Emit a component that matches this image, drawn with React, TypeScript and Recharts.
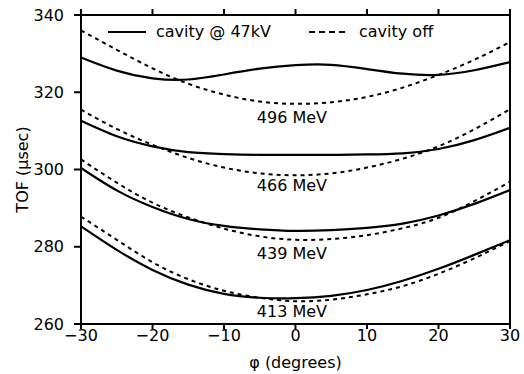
import React from 'react';
import { LineChart, Line, XAxis, YAxis, ReferenceDot, Legend } from 'recharts';

// phi (degrees) sample positions
const phi = [-30, -25, -20, -15, -10, -5, 0, 5, 10, 15, 20, 25, 30];

// TOF (usec), cavity @ 47kV (solid) and cavity off (dashed)
const on496 = [329.0, 325.6, 323.6, 323.3, 324.6, 326.1, 327.0, 327.1, 326.0, 324.8, 324.5, 325.7, 327.8];
const off496 = [336.0, 331.0, 326.2, 322.2, 319.4, 317.6, 317.0, 317.4, 318.8, 321.2, 324.5, 328.4, 333.0];
const on466 = [312.6, 308.6, 306.0, 304.5, 304.0, 303.8, 303.8, 303.8, 303.9, 304.2, 305.3, 307.6, 310.8];
const off466 = [315.5, 310.5, 306.4, 303.0, 300.5, 299.0, 298.5, 299.0, 300.5, 302.8, 306.0, 310.4, 315.6];
const on439 = [300.4, 294.6, 290.3, 287.2, 285.4, 284.5, 284.1, 284.3, 284.9, 286.0, 288.1, 291.1, 294.7];
const off439 = [302.6, 296.6, 291.4, 287.6, 284.7, 282.7, 281.8, 282.0, 283.0, 284.8, 287.5, 291.8, 296.8];
const on413 = [285.3, 279.2, 274.0, 270.2, 267.8, 266.8, 266.7, 267.3, 268.8, 271.2, 274.3, 277.9, 281.7];
const off413 = [287.8, 281.8, 276.0, 271.6, 268.6, 266.8, 265.9, 266.3, 267.7, 269.8, 273.0, 277.0, 281.5];

const energies = ['496 MeV', '466 MeV', '439 MeV', '413 MeV'];
const energyLabelY = [313.6, 296.0, 278.3, 263.3];

const xTicks = [-30, -20, -10, 0, 10, 20, 30];
const yTicks = [260, 280, 300, 320, 340];

const data = phi.map((p, i) => ({
  phi: p,
  on496: on496[i], off496: off496[i],
  on466: on466[i], off466: off466[i],
  on439: on439[i], off439: off439[i],
  on413: on413[i], off413: off413[i],
}));

const FONT = '"DejaVu Sans", sans-serif';

const LegendBox = () => (
  <div style={{ fontFamily: FONT, fontSize: 16, color: '#000', display: 'flex', alignItems: 'center', whiteSpace: 'nowrap' }}>
    <svg width={38} height={6}><line x1={0} y1={3} x2={38} y2={3} stroke="#000" strokeWidth={2} /></svg>
    <span style={{ marginLeft: 10 }}>cavity @ 47kV</span>
    <svg width={40} height={6} style={{ marginLeft: 38 }}><line x1={0} y1={3} x2={40} y2={3} stroke="#000" strokeWidth={2} strokeDasharray="6 4" /></svg>
    <span style={{ marginLeft: 10 }}>cavity off</span>
  </div>
);

const blank = () => '';

export default function App() {
  const solid = ['on496', 'on466', 'on439', 'on413'];
  const dashed = ['off496', 'off466', 'off439', 'off413'];
  return (
    <div style={{ position: 'absolute', left: 0, top: 0, background: '#fff' }}>
      <LineChart width={524} height={374} data={data} margin={{ top: 14, right: 13, bottom: 0, left: 0 }}>
        <XAxis
          dataKey="phi"
          type="number"
          domain={[-30, 30]}
          ticks={xTicks}
          height={50}
          stroke="#000"
          strokeWidth={2}
          tickSize={5}
          tickMargin={1}
          tickLine={{ stroke: '#000', strokeWidth: 2 }}
          tick={{ fill: '#000', fontSize: 16, fontFamily: FONT }}
          tickFormatter={(v: number) => (v < 0 ? '\u2212' + Math.abs(v) : String(v))}
          label={{ value: '\u03c6 (degrees)', position: 'insideBottom', offset: 6, fill: '#000', fontSize: 16, fontFamily: FONT }}
        />
        <XAxis xAxisId="top" dataKey="phi" type="number" domain={[-30, 30]} ticks={xTicks} orientation="top" height={1} stroke="#000" strokeWidth={2} tickSize={6} tickLine={{ stroke: '#000', strokeWidth: 2 }} tickFormatter={blank} />
        <YAxis
          domain={[260, 340]}
          ticks={yTicks}
          width={81}
          stroke="#000"
          strokeWidth={2}
          tickSize={7}
          tickMargin={10}
          tickLine={{ stroke: '#000', strokeWidth: 2 }}
          tick={{ fill: '#000', fontSize: 16, fontFamily: FONT }}
          label={{ value: 'TOF (\u03bcsec)', angle: -90, position: 'insideLeft', offset: 22, fill: '#000', fontSize: 16, fontFamily: FONT, style: { textAnchor: 'middle' } }}
        />
        <YAxis yAxisId="right" orientation="right" domain={[260, 340]} ticks={[280, 300, 320]} width={1} stroke="#000" strokeWidth={2} tickSize={6} tickLine={{ stroke: '#000', strokeWidth: 2 }} tickFormatter={blank} />
        <Legend layout="vertical" align="center" verticalAlign="middle" wrapperStyle={{ top: 22, left: 108, width: 400 }} content={() => <LegendBox />} />
        {solid.map((k) => (
          <Line key={k} dataKey={k} type="natural" stroke="#000" strokeWidth={2.2} dot={false} isAnimationActive={false} legendType="none" />
        ))}
        {dashed.map((k) => (
          <Line key={k} dataKey={k} type="natural" stroke="#000" strokeWidth={2} strokeDasharray="4 4" dot={false} isAnimationActive={false} legendType="none" />
        ))}
        {energies.map((e, i) => (
          <ReferenceDot
            key={e}
            x={-0.5}
            y={energyLabelY[i]}
            r={0}
            stroke="none"
            fill="none"
            label={{ value: e, position: 'center', fill: '#000', fontSize: 16, fontFamily: FONT }}
          />
        ))}
      </LineChart>
    </div>
  );
}
